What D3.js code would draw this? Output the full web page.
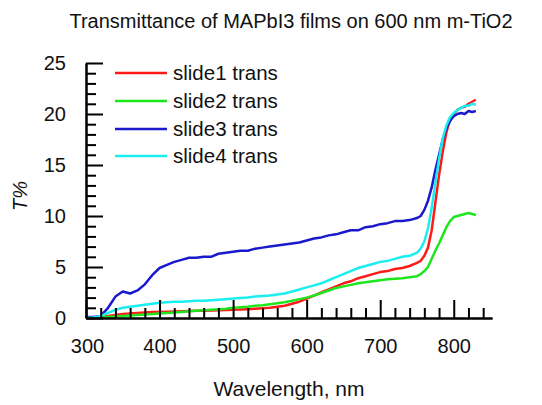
<!DOCTYPE html>
<html>
<head>
<meta charset="utf-8">
<script src="https://cdn.jsdelivr.net/npm/d3@7"></script>
<style>
  html, body { margin: 0; padding: 0; background: #fff; }
  svg { display: block; font-family: "Liberation Sans", Arial, sans-serif; }
</style>
</head>
<body>
<svg id="chart" width="542" height="405"></svg>
<script>
// ---- data ----
const wavelength = [300,310,320,330,340,350,360,370,380,390,400,410,420,430,440,450,460,470,480,490,
  500,510,520,530,540,550,560,570,580,590,600,610,620,630,640,650,660,670,680,690,
  700,710,720,730,740,750,755,760,765,770,775,780,785,790,795,800,805,810,815,820,825,830];

const slide1 = [0,0,0.05,0.2,0.3,0.4,0.45,0.5,0.55,0.58,0.6,0.62,0.64,0.66,0.68,0.7,0.72,0.74,0.76,0.78,
  0.8,0.83,0.86,0.9,0.95,1.0,1.1,1.2,1.4,1.6,1.9,2.2,2.5,2.8,3.1,3.4,3.6,3.9,4.1,4.3,
  4.5,4.6,4.8,4.9,5.1,5.4,5.6,6.1,6.9,8.6,11.3,14.0,16.3,18.2,19.5,20.0,20.4,20.6,20.7,21.0,21.2,21.4];

const slide2 = [0,0,0.05,0.1,0.15,0.2,0.25,0.3,0.35,0.4,0.45,0.5,0.55,0.6,0.65,0.7,0.75,0.8,0.85,0.9,
  1.0,1.05,1.1,1.2,1.25,1.35,1.45,1.55,1.7,1.85,2.0,2.2,2.45,2.7,2.95,3.1,3.25,3.4,3.5,3.6,
  3.7,3.8,3.85,3.9,4.0,4.1,4.3,4.6,5.0,5.8,6.6,7.3,8.1,8.9,9.5,9.9,10.0,10.1,10.2,10.3,10.2,10.1];

const slide3 = [0.1,0.1,0.2,1.0,2.1,2.6,2.4,2.7,3.3,4.2,4.9,5.2,5.5,5.7,5.9,5.9,6.0,6.0,6.3,6.4,
  6.5,6.6,6.6,6.8,6.9,7.0,7.1,7.2,7.3,7.4,7.6,7.8,7.9,8.1,8.2,8.4,8.6,8.6,8.9,9.0,
  9.2,9.3,9.5,9.5,9.6,9.8,10.0,10.6,11.5,12.8,14.5,16.0,17.5,18.6,19.3,19.8,20.0,20.1,20.0,20.3,20.2,20.3];

const slide4 = [0,0.05,0.2,0.5,0.8,1.0,1.1,1.2,1.3,1.4,1.5,1.55,1.6,1.6,1.65,1.7,1.7,1.75,1.8,1.85,
  1.9,1.95,2.0,2.1,2.15,2.2,2.3,2.4,2.6,2.8,3.0,3.2,3.4,3.7,4.0,4.3,4.6,4.9,5.1,5.3,
  5.5,5.6,5.8,6.0,6.1,6.4,6.8,7.5,8.8,10.8,13.2,15.6,17.6,18.9,19.7,20.1,20.4,20.6,20.8,20.8,21.0,20.9];

const seriesNames = ["slide1 trans","slide2 trans","slide3 trans","slide4 trans"];
const seriesColors = ["#ff1a1a","#1ee61e","#1a1acc","#1aeeee"];
const xMajorTicks = [300,400,500,600,700,800];
const yMajorTicks = [0,5,10,15,20,25];
const titleText = "Transmittance of MAPbI3 films on 600 nm m-TiO2";
const xLabel = "Wavelength, nm";
const yLabel = "T%";

// ---- chart ----
const svg = d3.select("#chart");
const x = d3.scaleLinear().domain([300, 852]).range([86, 492]);
const y = d3.scaleLinear().domain([0, 25]).range([318, 63]);

const allSeries = [slide1, slide2, slide3, slide4];
const line = d3.line().x(d => x(d[0])).y(d => y(d[1]));

allSeries.forEach((vals, i) => {
  svg.append("path")
    .datum(wavelength.map((w, j) => [w, vals[j]]))
    .attr("fill", "none")
    .attr("stroke", seriesColors[i])
    .attr("stroke-width", 2.5)
    .attr("stroke-linejoin", "round")
    .attr("d", line);
});

// x axis
const xMinor = d3.range(300, 841, 20).filter(v => !xMajorTicks.includes(v));
const gxMinor = svg.append("g").attr("transform", "translate(0,318)")
  .call(d3.axisBottom(x).tickValues(xMinor).tickSize(-10).tickSizeOuter(0).tickFormat(""));
const gx = svg.append("g").attr("transform", "translate(0,318)")
  .call(d3.axisBottom(x).tickValues(xMajorTicks).tickSize(-18).tickSizeOuter(0).tickPadding(21));
// y axis
const yMinor = d3.range(0, 26, 1).filter(v => !yMajorTicks.includes(v));
const gyMinor = svg.append("g").attr("transform", "translate(86,0)")
  .call(d3.axisLeft(y).tickValues(yMinor).tickSize(-10).tickSizeOuter(0).tickFormat(""));
const gy = svg.append("g").attr("transform", "translate(86,0)")
  .call(d3.axisLeft(y).tickValues(yMajorTicks).tickSize(-17).tickSizeOuter(0).tickPadding(20));

[gxMinor, gx, gyMinor, gy].forEach(g => {
  g.selectAll("path.domain").attr("stroke", "#000").attr("stroke-width", 2);
  g.selectAll(".tick line").attr("stroke", "#000").attr("stroke-width", 2);
  g.selectAll(".tick text").attr("fill", "#111").style("font-size", "20px")
    .style("font-family", "'Liberation Sans', Arial, sans-serif");
});
gx.selectAll(".tick text").filter(d => d === 300).attr("dx", 1);

// title
svg.append("text").attr("x", 291).attr("y", 28).attr("text-anchor", "middle")
  .style("font-size", "20px").attr("fill", "#111").text(titleText);
// axis labels
svg.append("text").attr("x", 289).attr("y", 396).attr("text-anchor", "middle")
  .style("font-size", "21px").attr("fill", "#111").text(xLabel);
svg.append("text").attr("transform", "translate(27,196) rotate(-90)").attr("text-anchor", "middle")
  .style("font-size", "20px").style("font-style", "italic").attr("fill", "#111").text(yLabel);

// legend
const legendY = [73, 101, 129, 156];
seriesNames.forEach((name, i) => {
  svg.append("line").attr("x1", 115).attr("x2", 167)
    .attr("y1", legendY[i]).attr("y2", legendY[i])
    .attr("stroke", seriesColors[i]).attr("stroke-width", 2.5);
  svg.append("text").attr("x", 173).attr("y", legendY[i] + 7)
    .style("font-size", "20.5px").attr("fill", "#111").text(name);
});
</script>
</body>
</html>
